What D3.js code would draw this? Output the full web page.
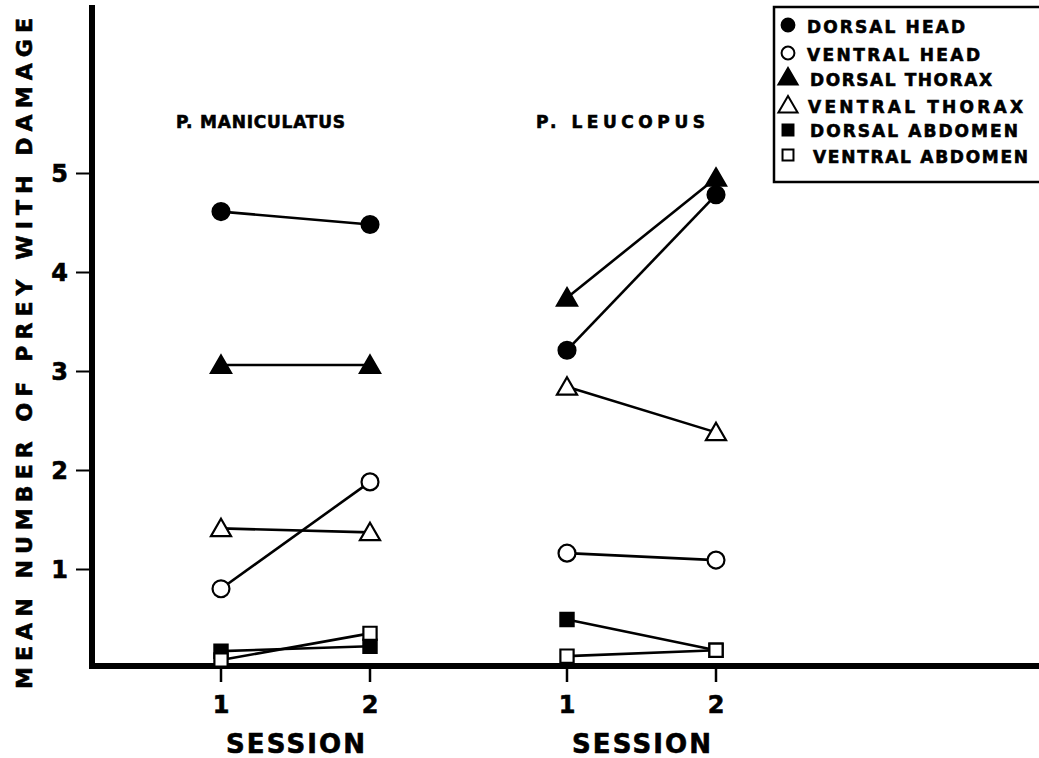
<!DOCTYPE html>
<html>
<head>
<meta charset="utf-8">
<title>Prey damage</title>
<script src="https://d3js.org/d3.v7.min.js"></script>
<style>
  body { margin: 0; background: #fff; }
  svg text { font-family: "DejaVu Sans", "Liberation Sans", sans-serif; font-weight: bold; fill: #000; stroke: #000; stroke-width: 0.6px; }
</style>
</head>
<body>
<svg width="1039" height="758"></svg>
<script>
// data
var species = ['P. MANICULATUS', 'P. LEUCOPUS'];
var sessions = [1, 2];
var regions = ['DORSAL HEAD', 'VENTRAL HEAD', 'DORSAL THORAX', 'VENTRAL THORAX', 'DORSAL ABDOMEN', 'VENTRAL ABDOMEN'];
var maniculatus = [[4.61, 4.48], [0.80, 1.88], [3.06, 3.06], [1.41, 1.37], [0.17, 0.22], [0.08, 0.35]];
var leucopus = [[3.21, 4.78], [1.16, 1.09], [3.74, 4.95], [2.84, 2.38], [0.49, 0.18], [0.12, 0.18]];
var yTicks = [1, 2, 3, 4, 5];

var values = [maniculatus, leucopus];
var shapes = ['circle', 'circle', 'triangle', 'triangle', 'square', 'square'];
var filled = [true, false, true, false, true, false];

const svg = d3.select('svg');

var yScale = d3.scaleLinear().domain([0, 5]).range([668, 173]);
var groupScale = d3.scalePoint().domain(species).range([295, 641]);
var sessionScale = d3.scaleLinear().domain([1, 2]).range([-74, 75]);
var xPos = (sp, s) => groupScale(sp) + sessionScale(s);

function symType(shape) {
  return shape == 'circle' ? d3.symbolCircle : shape == 'triangle' ? d3.symbolTriangle : d3.symbolSquare;
}

// y axis
var yAxis = svg.append('g')
  .attr('transform', 'translate(91,0)')
  .call(d3.axisLeft(yScale).tickValues(yTicks).tickFormat(d3.format('d')).tickSize(15).tickPadding(8));
yAxis.select('.domain').remove();
yAxis.selectAll('line').attr('stroke', '#000').attr('stroke-width', 2);
yAxis.selectAll('text').style('font-size', '24px').attr('dy', '0.36em');

svg.append('line').attr('x1', 92).attr('x2', 92).attr('y1', 5).attr('y2', 669)
  .attr('stroke', '#000').attr('stroke-width', 6);
svg.append('line').attr('x1', 89).attr('x2', 1039).attr('y1', 666).attr('y2', 666)
  .attr('stroke', '#000').attr('stroke-width', 6);

// x axis per species
var titleX = [176, 536], titleLen = [169, 169];
species.forEach(function (sp, si) {
  var g = svg.append('g');
  sessions.forEach(function (s) {
    g.append('line').attr('x1', xPos(sp, s)).attr('x2', xPos(sp, s))
      .attr('y1', 666).attr('y2', 682).attr('stroke', '#000').attr('stroke-width', 2.5);
    g.append('text').attr('x', xPos(sp, s)).attr('y', 713)
      .attr('text-anchor', 'middle').style('font-size', '24px').text(s);
  });
  g.append('text').attr('x', groupScale(sp) - 69).attr('y', 753)
    .attr('textLength', 139).attr('lengthAdjust', 'spacing')
    .style('font-size', '26px').text('SESSION');
  g.append('text').attr('x', titleX[si]).attr('y', 128)
    .attr('textLength', titleLen[si]).attr('lengthAdjust', 'spacing')
    .style('font-size', '17px').text(sp);
});

// y label
svg.append('text')
  .attr('transform', 'translate(32,689) rotate(-90)')
  .attr('textLength', 671).attr('lengthAdjust', 'spacing')
  .style('font-size', '22px')
  .text('MEAN NUMBER OF PREY WITH DAMAGE');

// lines and markers
var markSize = { circle: 225, triangle: 175, square: 175 };
species.forEach(function (sp, si) {
  regions.forEach(function (r, ri) {
    var pts = sessions.map((s, k) => [xPos(sp, s), yScale(values[si][ri][k])]);
    svg.append('path').attr('d', d3.line()(pts))
      .attr('fill', 'none').attr('stroke', '#000').attr('stroke-width', 2.6);
  });
  regions.forEach(function (r, ri) {
    sessions.forEach(function (s, k) {
      var x = xPos(sp, s), y = yScale(values[si][ri][k]);
      svg.append('path').attr('d', d3.symbol().type(symType(shapes[ri])).size(markSize[shapes[ri]])())
        .attr('transform', `translate(${x},${y + (shapes[ri] == 'triangle' ? 2 : 0)})`)
        .attr('fill', filled[ri] ? '#000' : '#fff')
        .attr('stroke', '#000').attr('stroke-width', 2.2);
    });
  });
});

// legend
var legend = svg.append('g');
legend.append('rect').attr('x', 774).attr('y', 7).attr('width', 275).attr('height', 175)
  .attr('fill', '#fff').attr('stroke', '#000').attr('stroke-width', 2.5);
var legendY = [25, 53, 78, 106, 130, 155];
var legendBase = [33, 61, 86, 113, 137, 163];
var legendX = [807, 807, 810, 808, 810, 813];
var legendLen = [158, 173, 182, 215, 208, 215];
var legendSize = { circle: 130, triangle: 160, square: 120 };
regions.forEach(function (r, ri) {
  var s = shapes[ri];
  legend.append('path').attr('d', d3.symbol().type(symType(s)).size(legendSize[s])())
    .attr('transform', `translate(788,${legendY[ri] + (s == 'triangle' ? 1 : 0)})`)
    .attr('fill', filled[ri] ? '#000' : '#fff')
    .attr('stroke', '#000').attr('stroke-width', 2);
  legend.append('text').attr('x', legendX[ri]).attr('y', legendBase[ri])
    .attr('textLength', legendLen[ri]).attr('lengthAdjust', 'spacing')
    .style('font-size', '17px').text(r);
});
</script>
</body>
</html>
